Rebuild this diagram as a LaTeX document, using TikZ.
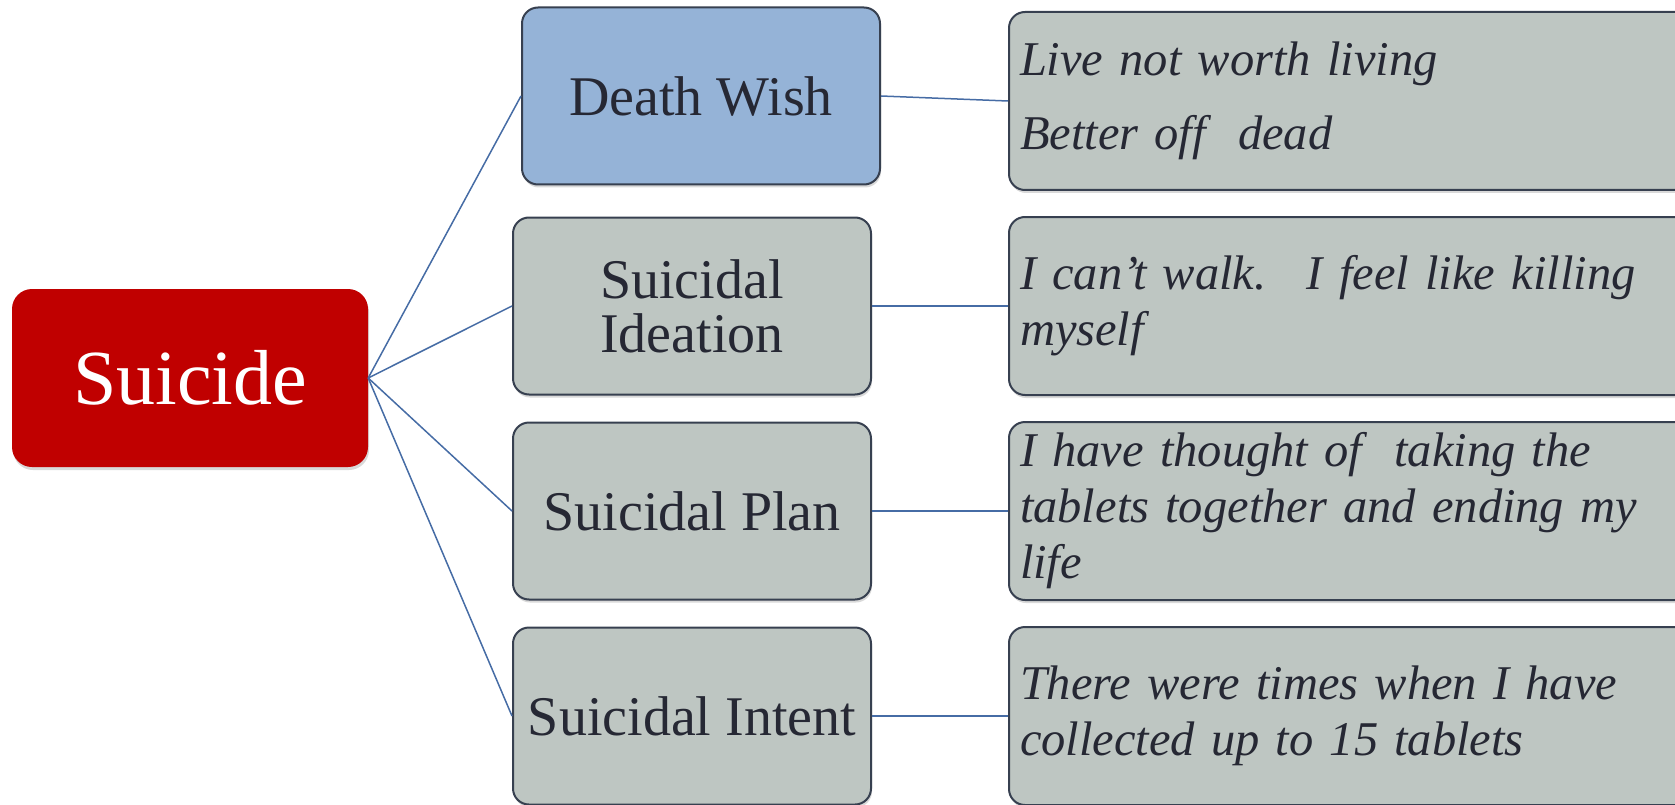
\documentclass[tikz,border=0pt]{standalone}
\usepackage{fontspec}
\setmainfont{Liberation Serif}
\usetikzlibrary{positioning,shadows}
\definecolor{suired}{RGB}{192,0,0}
\definecolor{wishblue}{RGB}{149,179,215}
\definecolor{boxgray}{RGB}{190,198,194}
\definecolor{edgedark}{RGB}{55,64,80}
\definecolor{inkdark}{RGB}{38,40,52}
\definecolor{linkblue}{RGB}{70,108,165}
\tikzset{
  topic/.style={fill=suired,text=white,rounded corners=20pt,minimum width=356pt,minimum height=178pt,font=\fontsize{78}{80}\selectfont,drop shadow={shadow xshift=1pt,shadow yshift=-3pt,opacity=0.3}},
  stage/.style={draw=edgedark,line width=2pt,fill=boxgray,text=inkdark,rounded corners=16pt,minimum width=358pt,minimum height=177pt,align=center,font=\fontsize{56}{54}\selectfont,drop shadow={shadow xshift=1pt,shadow yshift=-3pt,opacity=0.3}},
  saying/.style={stage,minimum width=700pt,minimum height=178pt,inner xsep=11pt,text width=678pt,align=left,font=\itshape\fontsize{48.5}{56}\selectfont},
  link/.style={linkblue,line width=1.5pt}
}
\begin{document}
\begin{tikzpicture}[x=1pt,y=-1pt]
    \useasboundingbox (0,0) rectangle (1675,805);
    \clip (0,0) rectangle (1675,805);
    \node[topic] (sui) at (190,378) {Suicide};
    \node[stage,fill=wishblue] (dw) at (701,96) {Death Wish};
    \node[stage] (si) at (692,306) {Suicidal\\Ideation};
    \node[stage] (sp) at (692,511) {Suicidal Plan};
    \node[stage] (st) at (692,716) {Suicidal Intent};
    \node[saying] (q1) at (1359,101) {Live not worth living\\[18pt]Better off~ dead};
    \node[saying] (q2) at (1359,306) {I can’t walk.~ I feel like killing\\myself};
    \node[saying] (q3) at (1359,511) {I have thought of~ taking the\\tablets together and ending my\\life};
    \node[saying] (q4) at (1359,716) {There were times when I have\\collected up to 15 tablets};
    \foreach \s in {dw,si,sp,st} \draw[link] (sui.east) -- (\s.west);
    \draw[link] (dw.east) -- (q1.west); \draw[link] (si.east) -- (q2.west);
    \draw[link] (sp.east) -- (q3.west); \draw[link] (st.east) -- (q4.west);
  \end{tikzpicture}
\end{document}
